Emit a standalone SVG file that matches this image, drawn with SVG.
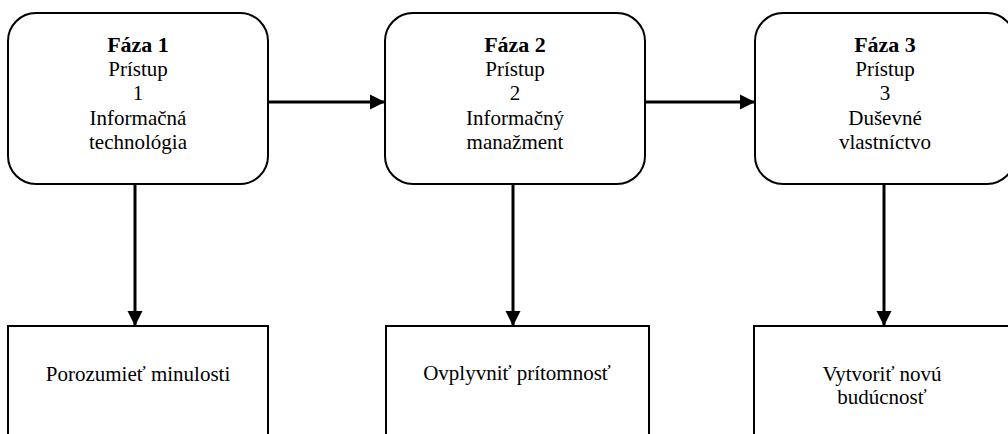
<svg xmlns="http://www.w3.org/2000/svg" width="1008" height="434" viewBox="0 0 1008 434">
<defs>
<style>
.phase{fill:#fff;stroke:#000;stroke-width:2}
.res{fill:#fff;stroke:#000;stroke-width:2}
.t{font-family:"Liberation Serif","Times New Roman",serif;font-size:21px;fill:#000;text-anchor:middle}
.b{font-weight:bold;font-size:22px}
.c{stroke:#000;stroke-width:3;fill:none;marker-end:url(#ah)}
</style>
<marker id="ah" viewBox="0 0 10 10" refX="10" refY="5" markerWidth="5" markerHeight="5.4" markerUnits="strokeWidth" orient="auto">
<path d="M0,0 L10,5 L0,10 z" fill="#000"/>
</marker>
</defs>
<rect width="1008" height="434" fill="#fff"/>
<g id="connectors">
<line class="c" x1="268" y1="102" x2="385" y2="102"/>
<line class="c" x1="645" y1="102" x2="755" y2="102"/>
<line class="c" x1="135" y1="185" x2="135" y2="326"/>
<line class="c" x1="513" y1="185" x2="513" y2="326"/>
<line class="c" x1="884" y1="185" x2="884" y2="326"/>
</g>
<g id="phase1">
<rect class="phase" x="8" y="13" width="260" height="171" rx="28" ry="28"/>
<text class="t b" x="138" y="52">Fáza 1</text>
<text class="t" x="138" y="76">Prístup</text>
<text class="t" x="138" y="100">1</text>
<text class="t" x="138" y="125">Informačná</text>
<text class="t" x="138" y="149">technológia</text>
</g>
<g id="phase2">
<rect class="phase" x="385" y="13" width="260" height="171" rx="28" ry="28"/>
<text class="t b" x="515" y="52">Fáza 2</text>
<text class="t" x="515" y="76">Prístup</text>
<text class="t" x="515" y="100">2</text>
<text class="t" x="515" y="125">Informačný</text>
<text class="t" x="515" y="149">manažment</text>
</g>
<g id="phase3">
<rect class="phase" x="755" y="13" width="260" height="171" rx="28" ry="28"/>
<text class="t b" x="885" y="52">Fáza 3</text>
<text class="t" x="885" y="76">Prístup</text>
<text class="t" x="885" y="100">3</text>
<text class="t" x="885" y="125">Duševné</text>
<text class="t" x="885" y="149">vlastníctvo</text>
</g>
<g id="result1">
<rect class="res" x="8" y="326" width="260" height="120"/>
<text class="t" x="138" y="381">Porozumieť minulosti</text>
</g>
<g id="result2">
<rect class="res" x="386" y="326" width="263" height="120"/>
<text class="t" x="517" y="380">Ovplyvniť prítomnosť</text>
</g>
<g id="result3">
<rect class="res" x="754" y="326" width="260" height="120"/>
<text class="t" x="882" y="381">Vytvoriť novú</text>
<text class="t" x="882" y="404">budúcnosť</text>
</g>
</svg>
